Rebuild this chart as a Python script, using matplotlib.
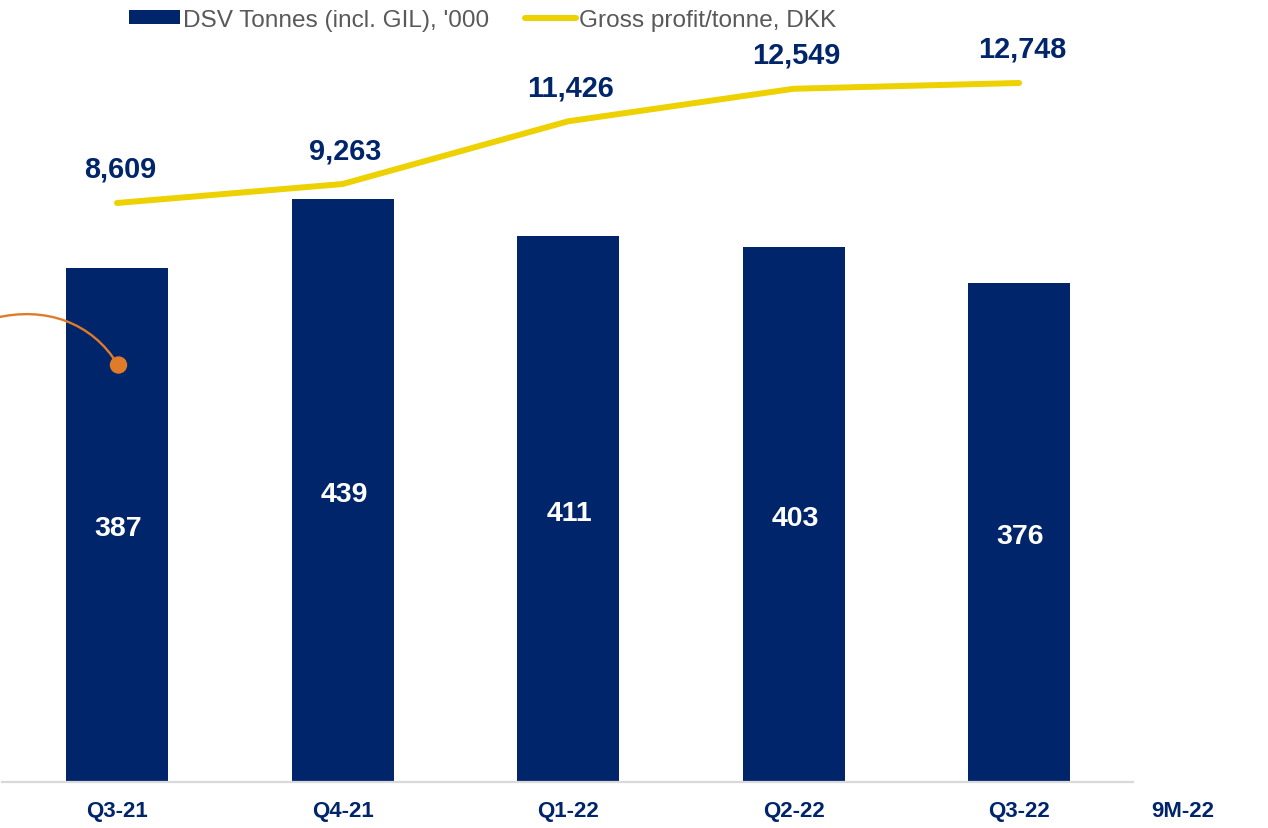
import matplotlib
matplotlib.use("Agg")
import matplotlib.pyplot as plt
from matplotlib.patches import Patch, PathPatch, Ellipse
from matplotlib.lines import Line2D
from matplotlib.path import Path

plt.rcParams['font.family'] = ['Liberation Sans', 'DejaVu Sans']

categories = ["Q3-21", "Q4-21", "Q1-22", "Q2-22", "Q3-22", "9M-22"]
tonnes = [387, 439, 411, 403, 376]
gp_per_tonne = [8609, 9263, 11426, 12549, 12748]
series_names = ["DSV Tonnes (incl. GIL), '000", "Gross profit/tonne, DKK"]

NAVY = "#00256A"
YELLOW = "#EDD100"
GRAY_TXT = "#595959"
ORANGE = "#E07B2A"

W, H = 1268, 829
fig = plt.figure(figsize=(W / 100, H / 100), dpi=100)
ax = fig.add_axes([2 / W, 1 - 783 / H, (1133 - 2) / W, 783 / H])

x = list(range(len(tonnes)))
ax.bar(x, tonnes, width=0.452, color=NAVY, zorder=2)
ax.set_xlim(-0.51, 4.505)
ax.set_ylim(0, 589.5)

for xi, v in zip(x, tonnes):
    ax.annotate(f"{v:,}", (xi, v / 2), xytext=(1, -2.5), textcoords="offset points",
                color="white", fontsize=20.5, fontweight="bold",
                ha="center", va="center", zorder=3)

# category labels
label_x = x + [4.727]
for xi, c in zip(label_x, categories):
    ax.text(xi, -28 / 1.328, c, color=NAVY, fontsize=16, fontweight="bold",
            ha="center", va="center", clip_on=False)

for s in ["top", "right", "left"]:
    ax.spines[s].set_visible(False)
ax.spines["bottom"].set_color("#D9D9D9")
ax.spines["bottom"].set_linewidth(1.6)
ax.set_xticks([])
ax.set_yticks([])

ax2 = ax.twinx()
ax2.plot(x, gp_per_tonne, color=YELLOW, lw=4.3, solid_capstyle="round",
         solid_joinstyle="round", zorder=4)
ax2.set_ylim(-11362, 15645)
ax2.set_yticks([])
for s in ["top", "right", "left", "bottom"]:
    ax2.spines[s].set_visible(False)
for xi, v in zip(x, gp_per_tonne):
    ax2.annotate(f"{v:,}", (xi, v), xytext=(2, 24.5), textcoords="offset points",
                 color=NAVY, fontsize=20.8, fontweight="bold",
                 ha="center", va="center")

# orange call-out arc with dot (decoration)
to_px = lambda px, py: (px / W, 1 - py / H)
verts = [to_px(-5, 319), to_px(45, 307), to_px(92, 323), to_px(118, 366)]
path = Path(verts, [Path.MOVETO, Path.CURVE4, Path.CURVE4, Path.CURVE4])
fig.patches.append(PathPatch(path, transform=fig.transFigure, fill=False,
                             edgecolor=ORANGE, lw=1.7, zorder=10))
fig.patches.append(Ellipse(to_px(118.5, 366), 16 / W, 16 / H,
                           transform=fig.transFigure, color=ORANGE, zorder=11))

handles = [Patch(facecolor=NAVY, edgecolor="none"),
           Line2D([], [], color=YELLOW, lw=4.3, solid_capstyle="round")]
leg = fig.legend(handles, series_names, loc="center left",
                 bbox_to_anchor=(129 / W, 1 - 21 / H), ncol=2, frameon=False,
                 fontsize=17.6, handlelength=2.1, handleheight=0.5,
                 handletextpad=0.12, columnspacing=1.45, borderpad=0,
                 borderaxespad=0)
for t in leg.get_texts():
    t.set_color(GRAY_TXT)

fig.savefig("out.png", dpi=100)
